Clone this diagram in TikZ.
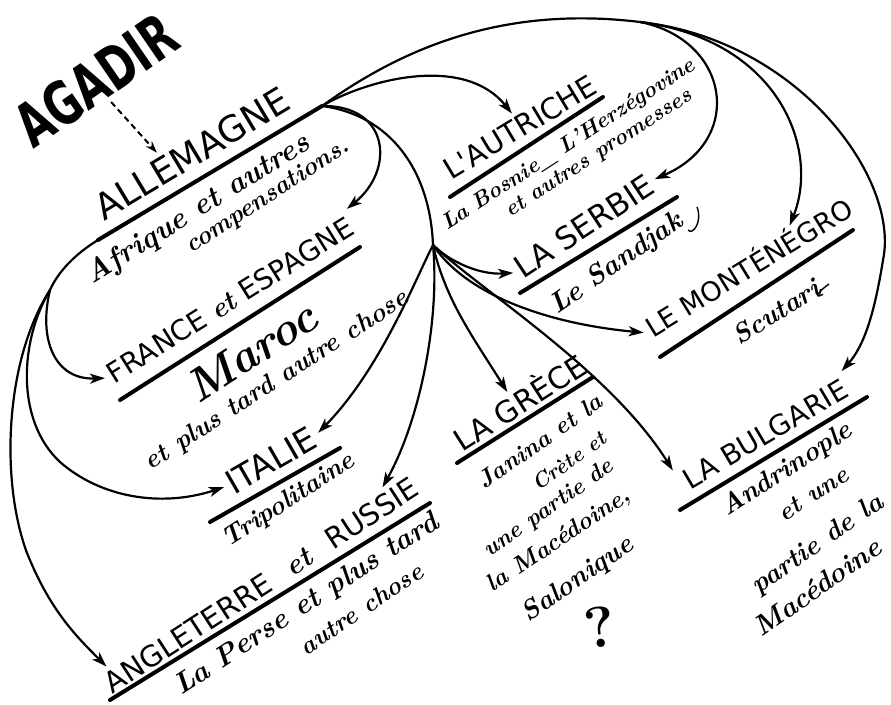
\documentclass[tikz,border=0pt]{standalone}
\usepackage{fontspec}
\usepackage{graphicx}
\usetikzlibrary{arrows.meta,calc}
\newfontfamily\capsfont{DejaVu Sans}

\begin{document}
\begin{tikzpicture}[x=1pt, y=-1pt,
    country/.style={font=\capsfont\fontsize{#1}{#1}\selectfont, inner sep=0pt, outer sep=5pt, text height={#1pt*0.74}, text depth=0pt},
    prize/.style={font=\bfseries\itshape\fontsize{#1}{#1}\selectfont, inner sep=0pt},
    bar/.style={line width=4pt, line cap=round},
    thread/.style={line width=2.2pt},
    link/.style={thread, -{Stealth[length=15pt, width=10pt, inset=4pt]}}]
    \useasboundingbox (0,0) rectangle (891,704);

    \node [rotate=34.5, inner sep=0pt, outer sep=4pt, font=\capsfont\bfseries\fontsize{60}{60}\selectfont] (agadir) at (96,80) {\scalebox{0.7}[1]{AGADIR}};

    \node [country=36, rotate=31] (allemagne) at (192,153) {ALLEMAGNE};
    \node [country=28, rotate=32] (france) at (230,300) {FRANCE {\normalfont\itshape\bfseries et} ESPAGNE};
    \node [country=33, rotate=30] (italie) at (271,460) {ITALIE};
    \node [country=29, rotate=33] (angleterre) at (261,585) {ANGLETERRE\hspace{0.75em}{\normalfont\itshape\bfseries et}\hspace{0.75em}RUSSIE};
    \node [country=29, rotate=31] (autriche) at (520,127) {L'AUTRICHE};
    \node [country=31, rotate=33.5] (serbie) at (584,226) {LA SERBIE};
    \node [country=27, rotate=31.5] (montenegro) at (749,268) {LE MONTÉNÉGRO};
    \node [country=30, rotate=32.5] (grece) at (520,403) {LA GRÈCE};
    \node [country=28, rotate=30.5] (bulgarie) at (765,434) {LA BULGARIE};

    \node [prize=30, rotate=32] (afrique) at (198,210) {Afrique et autres};
    \node [prize=25, rotate=33] (compens) at (268,197) {compensations.};
    \node [prize=46, rotate=33] (maroc) at (251,352) {Maroc};
    \node [prize=26, rotate=33] (maroclater) at (277,381) {et plus tard autre chose};
    \node [prize=26, rotate=33] (tripoli) at (289,501) {Tripolitaine};
    \node [prize=29, rotate=33] (perse) at (307,605) {La Perse et plus tard};
    \node [prize=25, rotate=34] (perselater) at (361,609) {autre chose};
    \node [prize=22, rotate=33] (bosnie) at (569,145) {La Bosnie\_ L'Herzégovine};
    \node [prize=22, rotate=33] (promesses) at (599,154) {et autres promesses};
    \node [prize=28, rotate=35] (sandjak) at (617,264) {Le Sandjak};
    \node [prize=27, rotate=32] (scutari) at (776,312) {Scutari};
    \node [prize=24, rotate=35] (janina) at (540,441) {Janina et la};
    \node [prize=21, rotate=36] (crete) at (569,461) {Crète et};
    \node [prize=23, rotate=35] (partie) at (549,509) {une partie de};
    \node [prize=24, rotate=34] (macedoine) at (559,541) {la Macédoine,};
    \node [prize=27, rotate=35] (salonique) at (578,580) {Salonique};
    \node [font=\bfseries\fontsize{58}{58}\selectfont, rotate=8, inner sep=0pt] (doute) at (600,627) {?};
    \node [prize=27, rotate=33] (andrinople) at (787,470) {Andrinople};
    \node [prize=25, rotate=33] (etune) at (813,494) {et une};
    \node [prize=27, rotate=35] (partiede) at (818,545) {partie de la};
    \node [prize=28, rotate=35] (macedoine2) at (817,587) {Macédoine};

    \draw [bar] (120,400) -- (360,247);
    \draw [bar] (210,522) -- (340,448);
    \draw [bar] (110,700) -- (430,503);
    \draw [bar] (450,197) -- (603,97);
    \draw [bar] (520,293) -- (677,197);
    \draw [bar] (660,357) -- (853,230);
    \draw [bar] (457,463) -- (593,377);
    \draw [bar] (680,510) -- (867,397);

    \draw [line width=1.4pt] (sandjak.south east) .. controls (692,236) and (703,222) .. (697,207);
    \draw [line width=1.4pt] (scutari.south east) .. controls (812,300) and (820,290) .. (829,284);

    \coordinate (hubR) at (322,106);
    \coordinate (barL) at (98,240);
    \coordinate (hubL) at (50,290);
    \coordinate (hubT) at (640,22);
    \coordinate (hubD) at (433,245);

    \draw [bar] (hubR) -- (barL);
    \draw [thread] (barL) .. controls (75,254) and (58,272) .. (hubL);
    \draw [thread] (hubR) .. controls (400,50) and (500,5) .. (hubT);
    \draw [thread] (hubR) .. controls (390,115) and (430,170) .. (hubD);

    \draw [link] (hubL) .. controls (38,340) and (55,380) .. (france.west);
    \draw [link] (hubL) .. controls (20,340) and (15,420) .. (60,462) .. controls (100,497) and (160,508) .. (italie.west);
    \draw [link] (hubL) .. controls (5,360) and (0,480) .. (27,553) .. controls (50,610) and (75,635) .. ($(angleterre.north west)!0.04!(angleterre.north east)$);
    \draw [link] (hubR) .. controls (370,78) and (465,55) .. (autriche.north);
    \draw [link] (hubR) .. controls (390,105) and (395,170) .. (france.north east);
    \draw [link] (hubD) .. controls (450,262) and (480,275) .. (serbie.west);
    \draw [link] (hubD) .. controls (470,300) and (560,325) .. (montenegro.west);
    \draw [link] (hubD) .. controls (445,300) and (475,340) .. ($(grece.north west)!0.47!(grece.north east)$);
    \draw [link] (hubD) .. controls (480,290) and (610,370) .. (bulgarie.north west);
    \draw [link] (hubD) .. controls (440,320) and (420,420) .. ($(angleterre.north west)!0.91!(angleterre.north east)$);
    \draw [link] (hubD) .. controls (415,280) and (380,370) .. (italie.east);
    \draw [link] (hubT) .. controls (730,40) and (745,140) .. (serbie.east);
    \draw [link] (hubT) .. controls (780,40) and (820,150) .. ($(montenegro.north west)!0.73!(montenegro.north east)$);
    \draw [link] (hubT) .. controls (800,40) and (900,180) .. (883,260) .. controls (875,310) and (865,345) .. (bulgarie.north east);
    \draw [dash pattern=on 6pt off 4pt, line width=2pt, -{Stealth[length=12pt, width=8pt]}] (agadir.south) -- ($(allemagne.north west)!0.37!(allemagne.north east)$);
  \end{tikzpicture}
\end{document}
